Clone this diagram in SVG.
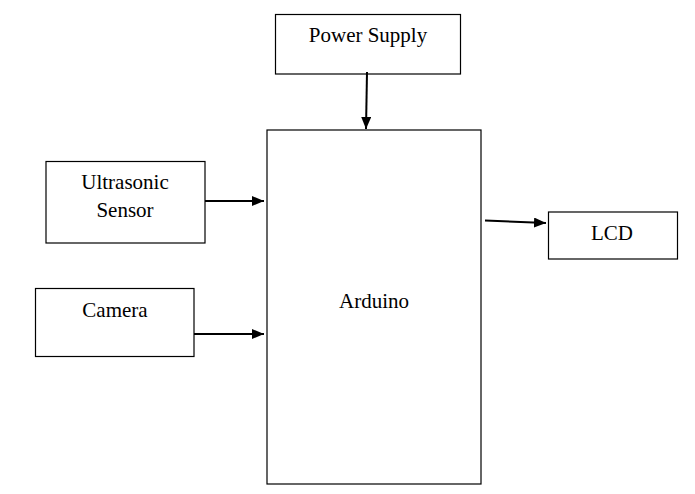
<svg xmlns="http://www.w3.org/2000/svg" width="695" height="494" viewBox="0 0 695 494">
<style>
.box{fill:#fff;stroke:#000;stroke-width:1.2}
.lbl{font-family:"Liberation Serif","Times New Roman",serif;font-size:21px;fill:#000;text-anchor:middle}
.conn{stroke:#000;stroke-width:2;fill:none}
</style>
<defs>
<marker id="ah" markerWidth="12" markerHeight="10" refX="12" refY="5" orient="auto" markerUnits="userSpaceOnUse">
<path d="M0,0 L12,5 L0,10 Z" fill="#000"/>
</marker>
</defs>
<rect width="695" height="494" fill="#fff"/>
<g id="power">
<rect class="box" x="275.5" y="14.5" width="185" height="59.5"/>
<text class="lbl" x="368" y="42">Power Supply</text>
</g>
<g id="arduino">
<rect class="box" x="267" y="130" width="214" height="354"/>
<text class="lbl" x="374" y="308">Arduino</text>
</g>
<g id="ultrasonic">
<rect class="box" x="46" y="161.5" width="159" height="81.5"/>
<text class="lbl" x="125" y="189">Ultrasonic</text>
<text class="lbl" x="125" y="217">Sensor</text>
</g>
<g id="camera">
<rect class="box" x="35.5" y="288.5" width="158.5" height="68"/>
<text class="lbl" x="115" y="317">Camera</text>
</g>
<g id="lcd">
<rect class="box" x="548.5" y="212" width="129" height="47"/>
<text class="lbl" x="612" y="240">LCD</text>
</g>
<g id="connectors">
<line class="conn" x1="367" y1="72" x2="366" y2="129" marker-end="url(#ah)"/>
<line class="conn" x1="205" y1="201" x2="264" y2="201" marker-end="url(#ah)"/>
<line class="conn" x1="194" y1="334" x2="264" y2="334" marker-end="url(#ah)"/>
<line class="conn" x1="485" y1="220.5" x2="546" y2="223" marker-end="url(#ah)"/>
</g>
</svg>
